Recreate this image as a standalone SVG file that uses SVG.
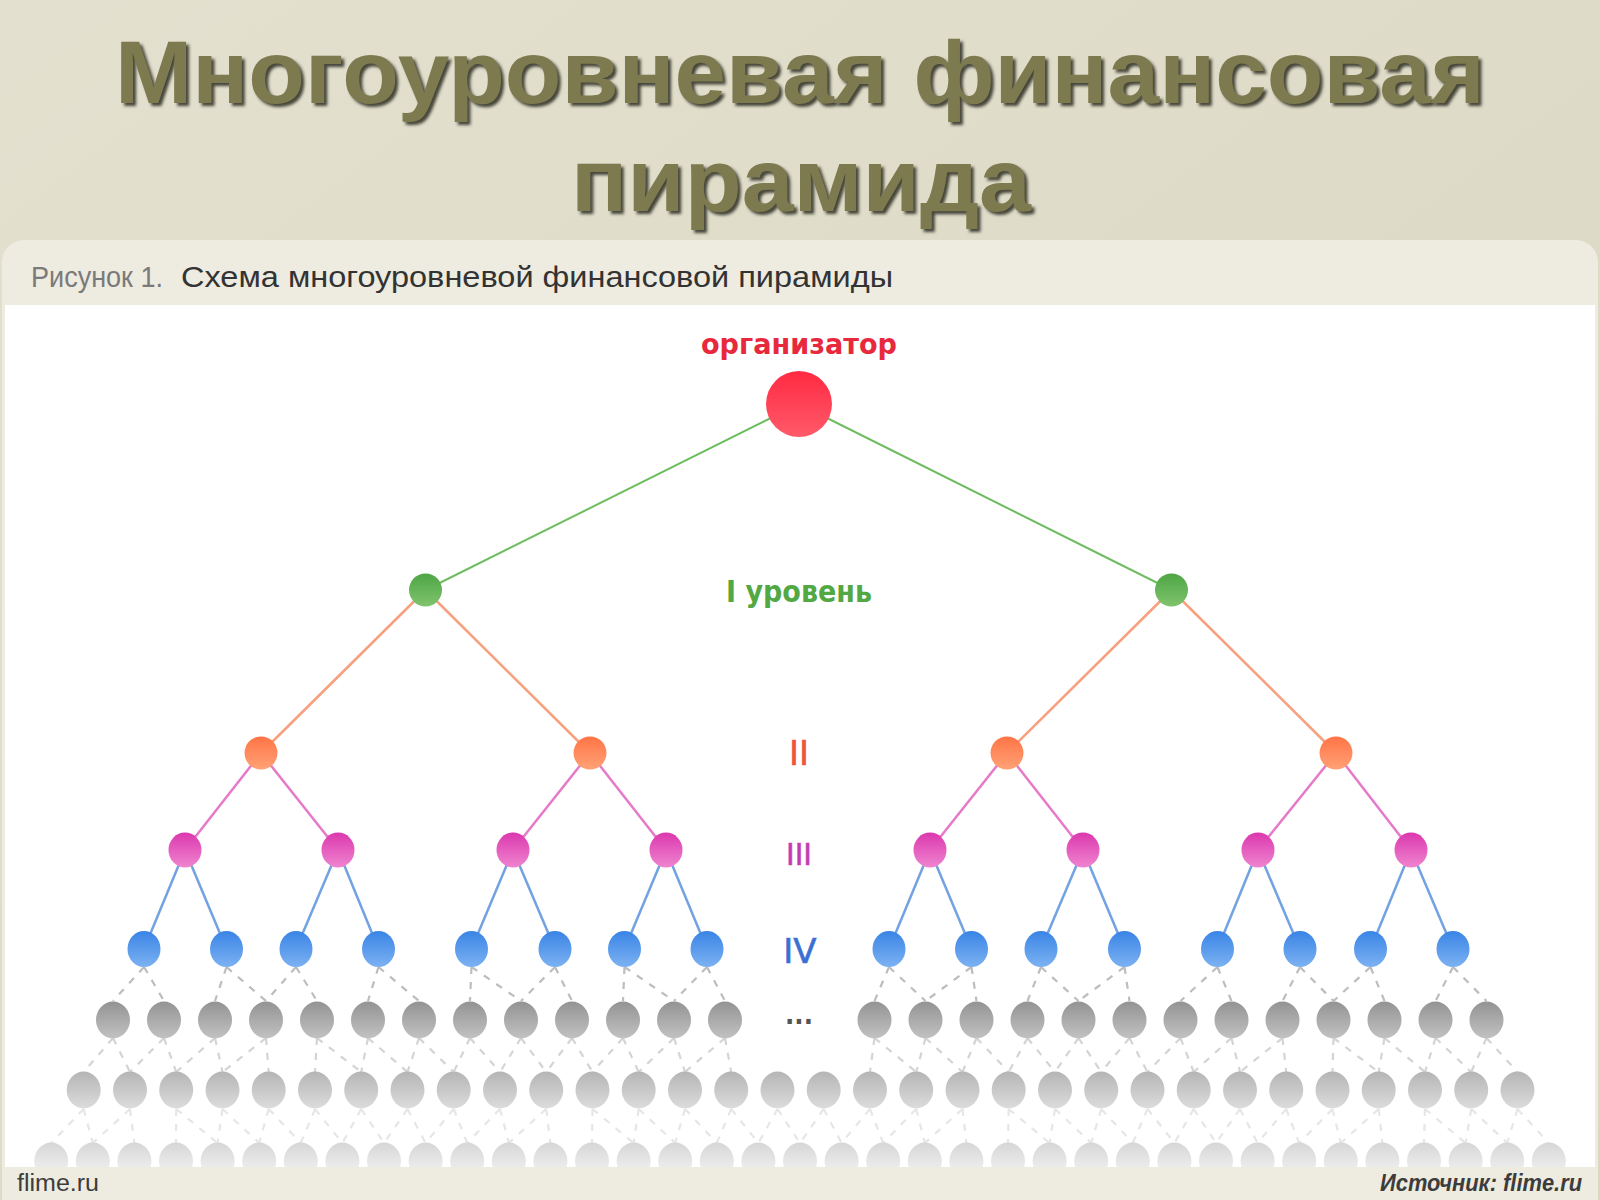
<svg xmlns="http://www.w3.org/2000/svg" width="1600" height="1200" viewBox="0 0 1600 1200">
<defs>
<linearGradient id="bg" x1="0" y1="0" x2="1" y2="1">
<stop offset="0" stop-color="#e3e0cf"/><stop offset="1" stop-color="#d9d6c1"/>
</linearGradient>
<linearGradient id="gRed" x1="0" y1="0" x2="0" y2="1"><stop offset="0" stop-color="#ff2a42"/><stop offset="1" stop-color="#ff5a6a"/></linearGradient>
<linearGradient id="gGreen" x1="0" y1="0" x2="0" y2="1"><stop offset="0" stop-color="#4ea545"/><stop offset="1" stop-color="#80c46e"/></linearGradient>
<linearGradient id="gOrange" x1="0" y1="0" x2="0" y2="1"><stop offset="0" stop-color="#ff7446"/><stop offset="1" stop-color="#ffa276"/></linearGradient>
<linearGradient id="gMag" x1="0" y1="0" x2="0" y2="1"><stop offset="0" stop-color="#db38ae"/><stop offset="1" stop-color="#ef84cf"/></linearGradient>
<linearGradient id="gBlue" x1="0" y1="0" x2="0" y2="1"><stop offset="0" stop-color="#3a84e6"/><stop offset="1" stop-color="#7cb2f2"/></linearGradient>
<linearGradient id="gG5" x1="0" y1="0" x2="0" y2="1"><stop offset="0" stop-color="#939393"/><stop offset="1" stop-color="#c2c2c2"/></linearGradient>
<linearGradient id="gG6" x1="0" y1="0" x2="0" y2="1"><stop offset="0" stop-color="#b5b5b5"/><stop offset="1" stop-color="#dcdcdc"/></linearGradient>
<linearGradient id="gG7" x1="0" y1="0" x2="0" y2="1"><stop offset="0" stop-color="#d6d6d6"/><stop offset="1" stop-color="#f6f6f6"/></linearGradient>
<filter id="blur" filterUnits="userSpaceOnUse" x="0" y="0" width="1600" height="240">
<feGaussianBlur stdDeviation="1.5"/>
</filter>
<clipPath id="whiteClip"><rect x="5" y="305" width="1590" height="862"/></clipPath>
<style>
.title{font-family:"Liberation Sans","DejaVu Sans",sans-serif;font-weight:bold;font-size:89px;fill:#7e7a4f;text-anchor:middle}
.tshadow{fill:#2a2a1c;fill-opacity:0.85}
.cap{font-family:"Liberation Sans","DejaVu Sans",sans-serif;font-size:30px}
.lbl{font-family:"DejaVu Sans","Liberation Sans",sans-serif;text-anchor:middle}
.foot{font-family:"Liberation Sans","DejaVu Sans",sans-serif;font-size:23px;fill:#3c3c3c}
.sg{stroke:#6dbd5e;stroke-width:2;fill:none}
.so{stroke:#f8a07e;stroke-width:2.5;fill:none}
.sm{stroke:#e67ac8;stroke-width:2.5;fill:none}
.sb{stroke:#72a2e2;stroke-width:2.5;fill:none}
.d5{stroke:#bdbdbd;stroke-width:2.2;stroke-dasharray:7 8;fill:none}
.d6{stroke:#d4d4d4;stroke-width:2.2;stroke-dasharray:7 8;fill:none}
.d7{stroke:#e6e6e6;stroke-width:2.2;stroke-dasharray:7 8;fill:none}
.red{fill:url(#gRed)}
.grn{fill:url(#gGreen)}
.org{fill:url(#gOrange)}
.mag{fill:url(#gMag)}
.blu{fill:url(#gBlue)}
.g5{fill:url(#gG5)}
.g6{fill:url(#gG6)}
.g7{fill:url(#gG7)}
</style>
</defs>

<rect x="0" y="0" width="1600" height="1200" fill="url(#bg)"/>
<rect x="2" y="240" width="1596" height="980" rx="22" fill="#eeebe0"/>
<rect x="5" y="305" width="1590" height="862" fill="#ffffff"/>

<g id="title">
<g filter="url(#blur)">
<text class="title tshadow" x="803" y="106" textLength="1370" lengthAdjust="spacingAndGlyphs">Многоуровневая финансовая</text>
<text class="title tshadow" x="804" y="214" textLength="460" lengthAdjust="spacingAndGlyphs">пирамида</text>
</g>
<text class="title" x="800" y="103" textLength="1370" lengthAdjust="spacingAndGlyphs">Многоуровневая финансовая</text>
<text class="title" x="801" y="211" textLength="460" lengthAdjust="spacingAndGlyphs">пирамида</text>
</g>

<g id="caption">
<text class="cap" x="31" y="287" fill="#7a7a7a" textLength="132" lengthAdjust="spacingAndGlyphs">Рисунок 1.</text>
<text class="cap" x="181" y="287" fill="#333333" textLength="712" lengthAdjust="spacingAndGlyphs">Схема многоуровневой финансовой пирамиды</text>
</g>

<g id="connectors">
<line class="sg" x1="799" y1="404" x2="425.5" y2="590"/>
<line class="sg" x1="799" y1="404" x2="1171.5" y2="590"/>
<line class="so" x1="425.5" y1="590" x2="261" y2="753"/>
<line class="so" x1="425.5" y1="590" x2="590" y2="753"/>
<line class="so" x1="1171.5" y1="590" x2="1007" y2="753"/>
<line class="so" x1="1171.5" y1="590" x2="1336" y2="753"/>
<line class="sm" x1="261" y1="753" x2="185" y2="850"/>
<line class="sm" x1="261" y1="753" x2="338" y2="850"/>
<line class="sm" x1="590" y1="753" x2="513" y2="850"/>
<line class="sm" x1="590" y1="753" x2="666" y2="850"/>
<line class="sm" x1="1007" y1="753" x2="930" y2="850"/>
<line class="sm" x1="1007" y1="753" x2="1083" y2="850"/>
<line class="sm" x1="1336" y1="753" x2="1258" y2="850"/>
<line class="sm" x1="1336" y1="753" x2="1411" y2="850"/>
<line class="sb" x1="185" y1="850" x2="144" y2="949"/>
<line class="sb" x1="185" y1="850" x2="226.5" y2="949"/>
<line class="sb" x1="338" y1="850" x2="296" y2="949"/>
<line class="sb" x1="338" y1="850" x2="378.5" y2="949"/>
<line class="sb" x1="513" y1="850" x2="471.5" y2="949"/>
<line class="sb" x1="513" y1="850" x2="555" y2="949"/>
<line class="sb" x1="666" y1="850" x2="624.5" y2="949"/>
<line class="sb" x1="666" y1="850" x2="707" y2="949"/>
<line class="sb" x1="930" y1="850" x2="889" y2="949"/>
<line class="sb" x1="930" y1="850" x2="971.5" y2="949"/>
<line class="sb" x1="1083" y1="850" x2="1041" y2="949"/>
<line class="sb" x1="1083" y1="850" x2="1124.5" y2="949"/>
<line class="sb" x1="1258" y1="850" x2="1217.5" y2="949"/>
<line class="sb" x1="1258" y1="850" x2="1300" y2="949"/>
<line class="sb" x1="1411" y1="850" x2="1370.5" y2="949"/>
<line class="sb" x1="1411" y1="850" x2="1453" y2="949"/>

<line class="d5" x1="144" y1="967" x2="113" y2="1001"/>
<line class="d5" x1="144" y1="967" x2="164" y2="1001"/>
<line class="d5" x1="226.5" y1="967" x2="215" y2="1001"/>
<line class="d5" x1="226.5" y1="967" x2="266" y2="1001"/>
<line class="d5" x1="296" y1="967" x2="266" y2="1001"/>
<line class="d5" x1="296" y1="967" x2="317" y2="1001"/>
<line class="d5" x1="378.5" y1="967" x2="368" y2="1001"/>
<line class="d5" x1="378.5" y1="967" x2="419" y2="1001"/>
<line class="d5" x1="471.5" y1="967" x2="470" y2="1001"/>
<line class="d5" x1="471.5" y1="967" x2="521" y2="1001"/>
<line class="d5" x1="555" y1="967" x2="521" y2="1001"/>
<line class="d5" x1="555" y1="967" x2="572" y2="1001"/>
<line class="d5" x1="624.5" y1="967" x2="623" y2="1001"/>
<line class="d5" x1="624.5" y1="967" x2="674" y2="1001"/>
<line class="d5" x1="707" y1="967" x2="674" y2="1001"/>
<line class="d5" x1="707" y1="967" x2="725" y2="1001"/>
<line class="d5" x1="889" y1="967" x2="874.5" y2="1001"/>
<line class="d5" x1="889" y1="967" x2="925.5" y2="1001"/>
<line class="d5" x1="971.5" y1="967" x2="925.5" y2="1001"/>
<line class="d5" x1="971.5" y1="967" x2="976.5" y2="1001"/>
<line class="d5" x1="1041" y1="967" x2="1027.5" y2="1001"/>
<line class="d5" x1="1041" y1="967" x2="1078.5" y2="1001"/>
<line class="d5" x1="1124.5" y1="967" x2="1078.5" y2="1001"/>
<line class="d5" x1="1124.5" y1="967" x2="1129.5" y2="1001"/>
<line class="d5" x1="1217.5" y1="967" x2="1180.5" y2="1001"/>
<line class="d5" x1="1217.5" y1="967" x2="1231.5" y2="1001"/>
<line class="d5" x1="1300" y1="967" x2="1282.5" y2="1001"/>
<line class="d5" x1="1300" y1="967" x2="1333.5" y2="1001"/>
<line class="d5" x1="1370.5" y1="967" x2="1333.5" y2="1001"/>
<line class="d5" x1="1370.5" y1="967" x2="1384.5" y2="1001"/>
<line class="d5" x1="1453" y1="967" x2="1435.5" y2="1001"/>
<line class="d5" x1="1453" y1="967" x2="1486.5" y2="1001"/>

<line class="d6" x1="113" y1="1038" x2="83.7" y2="1072"/>
<line class="d6" x1="113" y1="1038" x2="130" y2="1072"/>
<line class="d6" x1="164" y1="1038" x2="130" y2="1072"/>
<line class="d6" x1="164" y1="1038" x2="176.2" y2="1072"/>
<line class="d6" x1="215" y1="1038" x2="176.2" y2="1072"/>
<line class="d6" x1="215" y1="1038" x2="222.5" y2="1072"/>
<line class="d6" x1="266" y1="1038" x2="222.5" y2="1072"/>
<line class="d6" x1="266" y1="1038" x2="268.7" y2="1072"/>
<line class="d6" x1="317" y1="1038" x2="315" y2="1072"/>
<line class="d6" x1="317" y1="1038" x2="361.2" y2="1072"/>
<line class="d6" x1="368" y1="1038" x2="361.2" y2="1072"/>
<line class="d6" x1="368" y1="1038" x2="407.5" y2="1072"/>
<line class="d6" x1="419" y1="1038" x2="407.5" y2="1072"/>
<line class="d6" x1="419" y1="1038" x2="453.7" y2="1072"/>
<line class="d6" x1="470" y1="1038" x2="453.7" y2="1072"/>
<line class="d6" x1="470" y1="1038" x2="500" y2="1072"/>
<line class="d6" x1="521" y1="1038" x2="500" y2="1072"/>
<line class="d6" x1="521" y1="1038" x2="546.2" y2="1072"/>
<line class="d6" x1="572" y1="1038" x2="546.2" y2="1072"/>
<line class="d6" x1="572" y1="1038" x2="592.5" y2="1072"/>
<line class="d6" x1="623" y1="1038" x2="592.5" y2="1072"/>
<line class="d6" x1="623" y1="1038" x2="638.7" y2="1072"/>
<line class="d6" x1="674" y1="1038" x2="638.7" y2="1072"/>
<line class="d6" x1="674" y1="1038" x2="685" y2="1072"/>
<line class="d6" x1="725" y1="1038" x2="685" y2="1072"/>
<line class="d6" x1="725" y1="1038" x2="731.2" y2="1072"/>
<line class="d6" x1="874.5" y1="1038" x2="870" y2="1072"/>
<line class="d6" x1="874.5" y1="1038" x2="916.2" y2="1072"/>
<line class="d6" x1="925.5" y1="1038" x2="916.2" y2="1072"/>
<line class="d6" x1="925.5" y1="1038" x2="962.5" y2="1072"/>
<line class="d6" x1="976.5" y1="1038" x2="962.5" y2="1072"/>
<line class="d6" x1="976.5" y1="1038" x2="1008.7" y2="1072"/>
<line class="d6" x1="1027.5" y1="1038" x2="1008.7" y2="1072"/>
<line class="d6" x1="1027.5" y1="1038" x2="1055" y2="1072"/>
<line class="d6" x1="1078.5" y1="1038" x2="1055" y2="1072"/>
<line class="d6" x1="1078.5" y1="1038" x2="1101.2" y2="1072"/>
<line class="d6" x1="1129.5" y1="1038" x2="1101.2" y2="1072"/>
<line class="d6" x1="1129.5" y1="1038" x2="1147.5" y2="1072"/>
<line class="d6" x1="1180.5" y1="1038" x2="1147.5" y2="1072"/>
<line class="d6" x1="1180.5" y1="1038" x2="1193.7" y2="1072"/>
<line class="d6" x1="1231.5" y1="1038" x2="1193.7" y2="1072"/>
<line class="d6" x1="1231.5" y1="1038" x2="1240" y2="1072"/>
<line class="d6" x1="1282.5" y1="1038" x2="1240" y2="1072"/>
<line class="d6" x1="1282.5" y1="1038" x2="1286.2" y2="1072"/>
<line class="d6" x1="1333.5" y1="1038" x2="1332.5" y2="1072"/>
<line class="d6" x1="1333.5" y1="1038" x2="1378.7" y2="1072"/>
<line class="d6" x1="1384.5" y1="1038" x2="1378.7" y2="1072"/>
<line class="d6" x1="1384.5" y1="1038" x2="1425" y2="1072"/>
<line class="d6" x1="1435.5" y1="1038" x2="1425" y2="1072"/>
<line class="d6" x1="1435.5" y1="1038" x2="1471.2" y2="1072"/>
<line class="d6" x1="1486.5" y1="1038" x2="1471.2" y2="1072"/>
<line class="d6" x1="1486.5" y1="1038" x2="1517.5" y2="1072"/>

<line class="d7" x1="83.7" y1="1109" x2="51.2" y2="1143"/>
<line class="d7" x1="83.7" y1="1109" x2="92.8" y2="1143"/>
<line class="d7" x1="130" y1="1109" x2="92.8" y2="1143"/>
<line class="d7" x1="130" y1="1109" x2="134.4" y2="1143"/>
<line class="d7" x1="176.2" y1="1109" x2="176" y2="1143"/>
<line class="d7" x1="176.2" y1="1109" x2="217.6" y2="1143"/>
<line class="d7" x1="222.5" y1="1109" x2="217.6" y2="1143"/>
<line class="d7" x1="222.5" y1="1109" x2="259.2" y2="1143"/>
<line class="d7" x1="268.7" y1="1109" x2="259.2" y2="1143"/>
<line class="d7" x1="268.7" y1="1109" x2="300.8" y2="1143"/>
<line class="d7" x1="315" y1="1109" x2="300.8" y2="1143"/>
<line class="d7" x1="315" y1="1109" x2="342.4" y2="1143"/>
<line class="d7" x1="361.2" y1="1109" x2="342.4" y2="1143"/>
<line class="d7" x1="361.2" y1="1109" x2="384" y2="1143"/>
<line class="d7" x1="407.5" y1="1109" x2="384" y2="1143"/>
<line class="d7" x1="407.5" y1="1109" x2="425.6" y2="1143"/>
<line class="d7" x1="453.7" y1="1109" x2="425.6" y2="1143"/>
<line class="d7" x1="453.7" y1="1109" x2="467.2" y2="1143"/>
<line class="d7" x1="500" y1="1109" x2="467.2" y2="1143"/>
<line class="d7" x1="500" y1="1109" x2="508.8" y2="1143"/>
<line class="d7" x1="546.2" y1="1109" x2="508.8" y2="1143"/>
<line class="d7" x1="546.2" y1="1109" x2="550.4" y2="1143"/>
<line class="d7" x1="592.5" y1="1109" x2="592" y2="1143"/>
<line class="d7" x1="592.5" y1="1109" x2="633.6" y2="1143"/>
<line class="d7" x1="638.7" y1="1109" x2="633.6" y2="1143"/>
<line class="d7" x1="638.7" y1="1109" x2="675.2" y2="1143"/>
<line class="d7" x1="685" y1="1109" x2="675.2" y2="1143"/>
<line class="d7" x1="685" y1="1109" x2="716.8" y2="1143"/>
<line class="d7" x1="731.2" y1="1109" x2="716.8" y2="1143"/>
<line class="d7" x1="731.2" y1="1109" x2="758.4" y2="1143"/>
<line class="d7" x1="777.5" y1="1109" x2="758.4" y2="1143"/>
<line class="d7" x1="777.5" y1="1109" x2="800" y2="1143"/>
<line class="d7" x1="823.7" y1="1109" x2="800" y2="1143"/>
<line class="d7" x1="823.7" y1="1109" x2="841.6" y2="1143"/>
<line class="d7" x1="870" y1="1109" x2="841.6" y2="1143"/>
<line class="d7" x1="870" y1="1109" x2="883.2" y2="1143"/>
<line class="d7" x1="916.2" y1="1109" x2="883.2" y2="1143"/>
<line class="d7" x1="916.2" y1="1109" x2="924.8" y2="1143"/>
<line class="d7" x1="962.5" y1="1109" x2="924.8" y2="1143"/>
<line class="d7" x1="962.5" y1="1109" x2="966.4" y2="1143"/>
<line class="d7" x1="1008.7" y1="1109" x2="1008" y2="1143"/>
<line class="d7" x1="1008.7" y1="1109" x2="1049.6" y2="1143"/>
<line class="d7" x1="1055" y1="1109" x2="1049.6" y2="1143"/>
<line class="d7" x1="1055" y1="1109" x2="1091.2" y2="1143"/>
<line class="d7" x1="1101.2" y1="1109" x2="1091.2" y2="1143"/>
<line class="d7" x1="1101.2" y1="1109" x2="1132.8" y2="1143"/>
<line class="d7" x1="1147.5" y1="1109" x2="1132.8" y2="1143"/>
<line class="d7" x1="1147.5" y1="1109" x2="1174.4" y2="1143"/>
<line class="d7" x1="1193.7" y1="1109" x2="1174.4" y2="1143"/>
<line class="d7" x1="1193.7" y1="1109" x2="1216" y2="1143"/>
<line class="d7" x1="1240" y1="1109" x2="1216" y2="1143"/>
<line class="d7" x1="1240" y1="1109" x2="1257.6" y2="1143"/>
<line class="d7" x1="1286.2" y1="1109" x2="1257.6" y2="1143"/>
<line class="d7" x1="1286.2" y1="1109" x2="1299.2" y2="1143"/>
<line class="d7" x1="1332.5" y1="1109" x2="1299.2" y2="1143"/>
<line class="d7" x1="1332.5" y1="1109" x2="1340.8" y2="1143"/>
<line class="d7" x1="1378.7" y1="1109" x2="1340.8" y2="1143"/>
<line class="d7" x1="1378.7" y1="1109" x2="1382.4" y2="1143"/>
<line class="d7" x1="1425" y1="1109" x2="1424" y2="1143"/>
<line class="d7" x1="1425" y1="1109" x2="1465.6" y2="1143"/>
<line class="d7" x1="1471.2" y1="1109" x2="1465.6" y2="1143"/>
<line class="d7" x1="1471.2" y1="1109" x2="1507.2" y2="1143"/>
<line class="d7" x1="1517.5" y1="1109" x2="1507.2" y2="1143"/>
<line class="d7" x1="1517.5" y1="1109" x2="1548.8" y2="1143"/>
</g>

<g id="labels">
<text class="lbl" x="799" y="354" font-size="29" font-weight="bold" fill="#e8283c" textLength="196" lengthAdjust="spacingAndGlyphs">организатор</text>
<text class="lbl" x="799" y="602" font-size="30" font-weight="bold" fill="#52a842" textLength="146" lengthAdjust="spacingAndGlyphs">I уровень</text>
<text class="lbl" x="799" y="765" font-size="34" fill="#f0553a" stroke="#f0553a" stroke-width="0.6">II</text>
<text class="lbl" x="799" y="865" font-size="31" fill="#c43cb4" stroke="#c43cb4" stroke-width="0.6" textLength="26" lengthAdjust="spacingAndGlyphs">III</text>
<text class="lbl" x="800" y="963" font-size="34" fill="#3b6fd4" stroke="#3b6fd4" stroke-width="0.6">IV</text>
<text class="lbl" x="799" y="1024" font-size="26" font-weight="bold" fill="#555555" textLength="28" lengthAdjust="spacingAndGlyphs">...</text>
</g>

<g id="nodes">
<g id="n-organizer"><circle class="red" cx="799" cy="404" r="33"/></g>
<g id="n-1-1"><circle class="grn" cx="425.5" cy="590" r="16.5"/></g>
<g id="n-1-2"><circle class="grn" cx="1171.5" cy="590" r="16.5"/></g>
<g id="n-2-1"><circle class="org" cx="261" cy="753" r="16.5"/></g>
<g id="n-2-2"><circle class="org" cx="590" cy="753" r="16.5"/></g>
<g id="n-2-3"><circle class="org" cx="1007" cy="753" r="16.5"/></g>
<g id="n-2-4"><circle class="org" cx="1336" cy="753" r="16.5"/></g>
<g id="n-3-1"><ellipse class="mag" cx="185" cy="850" rx="16.5" ry="17.5"/></g>
<g id="n-3-2"><ellipse class="mag" cx="338" cy="850" rx="16.5" ry="17.5"/></g>
<g id="n-3-3"><ellipse class="mag" cx="513" cy="850" rx="16.5" ry="17.5"/></g>
<g id="n-3-4"><ellipse class="mag" cx="666" cy="850" rx="16.5" ry="17.5"/></g>
<g id="n-3-5"><ellipse class="mag" cx="930" cy="850" rx="16.5" ry="17.5"/></g>
<g id="n-3-6"><ellipse class="mag" cx="1083" cy="850" rx="16.5" ry="17.5"/></g>
<g id="n-3-7"><ellipse class="mag" cx="1258" cy="850" rx="16.5" ry="17.5"/></g>
<g id="n-3-8"><ellipse class="mag" cx="1411" cy="850" rx="16.5" ry="17.5"/></g>
<g id="n-4-1"><ellipse class="blu" cx="144" cy="949" rx="16.5" ry="18"/></g>
<g id="n-4-2"><ellipse class="blu" cx="226.5" cy="949" rx="16.5" ry="18"/></g>
<g id="n-4-3"><ellipse class="blu" cx="296" cy="949" rx="16.5" ry="18"/></g>
<g id="n-4-4"><ellipse class="blu" cx="378.5" cy="949" rx="16.5" ry="18"/></g>
<g id="n-4-5"><ellipse class="blu" cx="471.5" cy="949" rx="16.5" ry="18"/></g>
<g id="n-4-6"><ellipse class="blu" cx="555" cy="949" rx="16.5" ry="18"/></g>
<g id="n-4-7"><ellipse class="blu" cx="624.5" cy="949" rx="16.5" ry="18"/></g>
<g id="n-4-8"><ellipse class="blu" cx="707" cy="949" rx="16.5" ry="18"/></g>
<g id="n-4-9"><ellipse class="blu" cx="889" cy="949" rx="16.5" ry="18"/></g>
<g id="n-4-10"><ellipse class="blu" cx="971.5" cy="949" rx="16.5" ry="18"/></g>
<g id="n-4-11"><ellipse class="blu" cx="1041" cy="949" rx="16.5" ry="18"/></g>
<g id="n-4-12"><ellipse class="blu" cx="1124.5" cy="949" rx="16.5" ry="18"/></g>
<g id="n-4-13"><ellipse class="blu" cx="1217.5" cy="949" rx="16.5" ry="18"/></g>
<g id="n-4-14"><ellipse class="blu" cx="1300" cy="949" rx="16.5" ry="18"/></g>
<g id="n-4-15"><ellipse class="blu" cx="1370.5" cy="949" rx="16.5" ry="18"/></g>
<g id="n-4-16"><ellipse class="blu" cx="1453" cy="949" rx="16.5" ry="18"/></g>

<g id="n-5-1"><ellipse class="g5" cx="113" cy="1020" rx="17" ry="18.5"/></g>
<g id="n-5-2"><ellipse class="g5" cx="164" cy="1020" rx="17" ry="18.5"/></g>
<g id="n-5-3"><ellipse class="g5" cx="215" cy="1020" rx="17" ry="18.5"/></g>
<g id="n-5-4"><ellipse class="g5" cx="266" cy="1020" rx="17" ry="18.5"/></g>
<g id="n-5-5"><ellipse class="g5" cx="317" cy="1020" rx="17" ry="18.5"/></g>
<g id="n-5-6"><ellipse class="g5" cx="368" cy="1020" rx="17" ry="18.5"/></g>
<g id="n-5-7"><ellipse class="g5" cx="419" cy="1020" rx="17" ry="18.5"/></g>
<g id="n-5-8"><ellipse class="g5" cx="470" cy="1020" rx="17" ry="18.5"/></g>
<g id="n-5-9"><ellipse class="g5" cx="521" cy="1020" rx="17" ry="18.5"/></g>
<g id="n-5-10"><ellipse class="g5" cx="572" cy="1020" rx="17" ry="18.5"/></g>
<g id="n-5-11"><ellipse class="g5" cx="623" cy="1020" rx="17" ry="18.5"/></g>
<g id="n-5-12"><ellipse class="g5" cx="674" cy="1020" rx="17" ry="18.5"/></g>
<g id="n-5-13"><ellipse class="g5" cx="725" cy="1020" rx="17" ry="18.5"/></g>
<g id="n-5-14"><ellipse class="g5" cx="874.5" cy="1020" rx="17" ry="18.5"/></g>
<g id="n-5-15"><ellipse class="g5" cx="925.5" cy="1020" rx="17" ry="18.5"/></g>
<g id="n-5-16"><ellipse class="g5" cx="976.5" cy="1020" rx="17" ry="18.5"/></g>
<g id="n-5-17"><ellipse class="g5" cx="1027.5" cy="1020" rx="17" ry="18.5"/></g>
<g id="n-5-18"><ellipse class="g5" cx="1078.5" cy="1020" rx="17" ry="18.5"/></g>
<g id="n-5-19"><ellipse class="g5" cx="1129.5" cy="1020" rx="17" ry="18.5"/></g>
<g id="n-5-20"><ellipse class="g5" cx="1180.5" cy="1020" rx="17" ry="18.5"/></g>
<g id="n-5-21"><ellipse class="g5" cx="1231.5" cy="1020" rx="17" ry="18.5"/></g>
<g id="n-5-22"><ellipse class="g5" cx="1282.5" cy="1020" rx="17" ry="18.5"/></g>
<g id="n-5-23"><ellipse class="g5" cx="1333.5" cy="1020" rx="17" ry="18.5"/></g>
<g id="n-5-24"><ellipse class="g5" cx="1384.5" cy="1020" rx="17" ry="18.5"/></g>
<g id="n-5-25"><ellipse class="g5" cx="1435.5" cy="1020" rx="17" ry="18.5"/></g>
<g id="n-5-26"><ellipse class="g5" cx="1486.5" cy="1020" rx="17" ry="18.5"/></g>

<g id="n-6-1"><ellipse class="g6" cx="83.7" cy="1090" rx="17" ry="18.5"/></g>
<g id="n-6-2"><ellipse class="g6" cx="130" cy="1090" rx="17" ry="18.5"/></g>
<g id="n-6-3"><ellipse class="g6" cx="176.2" cy="1090" rx="17" ry="18.5"/></g>
<g id="n-6-4"><ellipse class="g6" cx="222.5" cy="1090" rx="17" ry="18.5"/></g>
<g id="n-6-5"><ellipse class="g6" cx="268.7" cy="1090" rx="17" ry="18.5"/></g>
<g id="n-6-6"><ellipse class="g6" cx="315" cy="1090" rx="17" ry="18.5"/></g>
<g id="n-6-7"><ellipse class="g6" cx="361.2" cy="1090" rx="17" ry="18.5"/></g>
<g id="n-6-8"><ellipse class="g6" cx="407.5" cy="1090" rx="17" ry="18.5"/></g>
<g id="n-6-9"><ellipse class="g6" cx="453.7" cy="1090" rx="17" ry="18.5"/></g>
<g id="n-6-10"><ellipse class="g6" cx="500" cy="1090" rx="17" ry="18.5"/></g>
<g id="n-6-11"><ellipse class="g6" cx="546.2" cy="1090" rx="17" ry="18.5"/></g>
<g id="n-6-12"><ellipse class="g6" cx="592.5" cy="1090" rx="17" ry="18.5"/></g>
<g id="n-6-13"><ellipse class="g6" cx="638.7" cy="1090" rx="17" ry="18.5"/></g>
<g id="n-6-14"><ellipse class="g6" cx="685" cy="1090" rx="17" ry="18.5"/></g>
<g id="n-6-15"><ellipse class="g6" cx="731.2" cy="1090" rx="17" ry="18.5"/></g>
<g id="n-6-16"><ellipse class="g6" cx="777.5" cy="1090" rx="17" ry="18.5"/></g>
<g id="n-6-17"><ellipse class="g6" cx="823.7" cy="1090" rx="17" ry="18.5"/></g>
<g id="n-6-18"><ellipse class="g6" cx="870" cy="1090" rx="17" ry="18.5"/></g>
<g id="n-6-19"><ellipse class="g6" cx="916.2" cy="1090" rx="17" ry="18.5"/></g>
<g id="n-6-20"><ellipse class="g6" cx="962.5" cy="1090" rx="17" ry="18.5"/></g>
<g id="n-6-21"><ellipse class="g6" cx="1008.7" cy="1090" rx="17" ry="18.5"/></g>
<g id="n-6-22"><ellipse class="g6" cx="1055" cy="1090" rx="17" ry="18.5"/></g>
<g id="n-6-23"><ellipse class="g6" cx="1101.2" cy="1090" rx="17" ry="18.5"/></g>
<g id="n-6-24"><ellipse class="g6" cx="1147.5" cy="1090" rx="17" ry="18.5"/></g>
<g id="n-6-25"><ellipse class="g6" cx="1193.7" cy="1090" rx="17" ry="18.5"/></g>
<g id="n-6-26"><ellipse class="g6" cx="1240" cy="1090" rx="17" ry="18.5"/></g>
<g id="n-6-27"><ellipse class="g6" cx="1286.2" cy="1090" rx="17" ry="18.5"/></g>
<g id="n-6-28"><ellipse class="g6" cx="1332.5" cy="1090" rx="17" ry="18.5"/></g>
<g id="n-6-29"><ellipse class="g6" cx="1378.7" cy="1090" rx="17" ry="18.5"/></g>
<g id="n-6-30"><ellipse class="g6" cx="1425" cy="1090" rx="17" ry="18.5"/></g>
<g id="n-6-31"><ellipse class="g6" cx="1471.2" cy="1090" rx="17" ry="18.5"/></g>
<g id="n-6-32"><ellipse class="g6" cx="1517.5" cy="1090" rx="17" ry="18.5"/></g>

<g id="level7" clip-path="url(#whiteClip)">
<g id="n-7-1"><ellipse class="g7" cx="51.2" cy="1161" rx="17" ry="18.5"/></g>
<g id="n-7-2"><ellipse class="g7" cx="92.8" cy="1161" rx="17" ry="18.5"/></g>
<g id="n-7-3"><ellipse class="g7" cx="134.4" cy="1161" rx="17" ry="18.5"/></g>
<g id="n-7-4"><ellipse class="g7" cx="176" cy="1161" rx="17" ry="18.5"/></g>
<g id="n-7-5"><ellipse class="g7" cx="217.6" cy="1161" rx="17" ry="18.5"/></g>
<g id="n-7-6"><ellipse class="g7" cx="259.2" cy="1161" rx="17" ry="18.5"/></g>
<g id="n-7-7"><ellipse class="g7" cx="300.8" cy="1161" rx="17" ry="18.5"/></g>
<g id="n-7-8"><ellipse class="g7" cx="342.4" cy="1161" rx="17" ry="18.5"/></g>
<g id="n-7-9"><ellipse class="g7" cx="384" cy="1161" rx="17" ry="18.5"/></g>
<g id="n-7-10"><ellipse class="g7" cx="425.6" cy="1161" rx="17" ry="18.5"/></g>
<g id="n-7-11"><ellipse class="g7" cx="467.2" cy="1161" rx="17" ry="18.5"/></g>
<g id="n-7-12"><ellipse class="g7" cx="508.8" cy="1161" rx="17" ry="18.5"/></g>
<g id="n-7-13"><ellipse class="g7" cx="550.4" cy="1161" rx="17" ry="18.5"/></g>
<g id="n-7-14"><ellipse class="g7" cx="592" cy="1161" rx="17" ry="18.5"/></g>
<g id="n-7-15"><ellipse class="g7" cx="633.6" cy="1161" rx="17" ry="18.5"/></g>
<g id="n-7-16"><ellipse class="g7" cx="675.2" cy="1161" rx="17" ry="18.5"/></g>
<g id="n-7-17"><ellipse class="g7" cx="716.8" cy="1161" rx="17" ry="18.5"/></g>
<g id="n-7-18"><ellipse class="g7" cx="758.4" cy="1161" rx="17" ry="18.5"/></g>
<g id="n-7-19"><ellipse class="g7" cx="800" cy="1161" rx="17" ry="18.5"/></g>
<g id="n-7-20"><ellipse class="g7" cx="841.6" cy="1161" rx="17" ry="18.5"/></g>
<g id="n-7-21"><ellipse class="g7" cx="883.2" cy="1161" rx="17" ry="18.5"/></g>
<g id="n-7-22"><ellipse class="g7" cx="924.8" cy="1161" rx="17" ry="18.5"/></g>
<g id="n-7-23"><ellipse class="g7" cx="966.4" cy="1161" rx="17" ry="18.5"/></g>
<g id="n-7-24"><ellipse class="g7" cx="1008" cy="1161" rx="17" ry="18.5"/></g>
<g id="n-7-25"><ellipse class="g7" cx="1049.6" cy="1161" rx="17" ry="18.5"/></g>
<g id="n-7-26"><ellipse class="g7" cx="1091.2" cy="1161" rx="17" ry="18.5"/></g>
<g id="n-7-27"><ellipse class="g7" cx="1132.8" cy="1161" rx="17" ry="18.5"/></g>
<g id="n-7-28"><ellipse class="g7" cx="1174.4" cy="1161" rx="17" ry="18.5"/></g>
<g id="n-7-29"><ellipse class="g7" cx="1216" cy="1161" rx="17" ry="18.5"/></g>
<g id="n-7-30"><ellipse class="g7" cx="1257.6" cy="1161" rx="17" ry="18.5"/></g>
<g id="n-7-31"><ellipse class="g7" cx="1299.2" cy="1161" rx="17" ry="18.5"/></g>
<g id="n-7-32"><ellipse class="g7" cx="1340.8" cy="1161" rx="17" ry="18.5"/></g>
<g id="n-7-33"><ellipse class="g7" cx="1382.4" cy="1161" rx="17" ry="18.5"/></g>
<g id="n-7-34"><ellipse class="g7" cx="1424" cy="1161" rx="17" ry="18.5"/></g>
<g id="n-7-35"><ellipse class="g7" cx="1465.6" cy="1161" rx="17" ry="18.5"/></g>
<g id="n-7-36"><ellipse class="g7" cx="1507.2" cy="1161" rx="17" ry="18.5"/></g>
<g id="n-7-37"><ellipse class="g7" cx="1548.8" cy="1161" rx="17" ry="18.5"/></g>
</g>
</g>

<g id="footer">
<text class="foot" x="17" y="1191" textLength="82" lengthAdjust="spacingAndGlyphs">flime.ru</text>
<text class="foot" x="1582" y="1191" text-anchor="end" font-weight="bold" font-style="italic" textLength="202" lengthAdjust="spacingAndGlyphs">Источник: flime.ru</text>
</g>
</svg>
